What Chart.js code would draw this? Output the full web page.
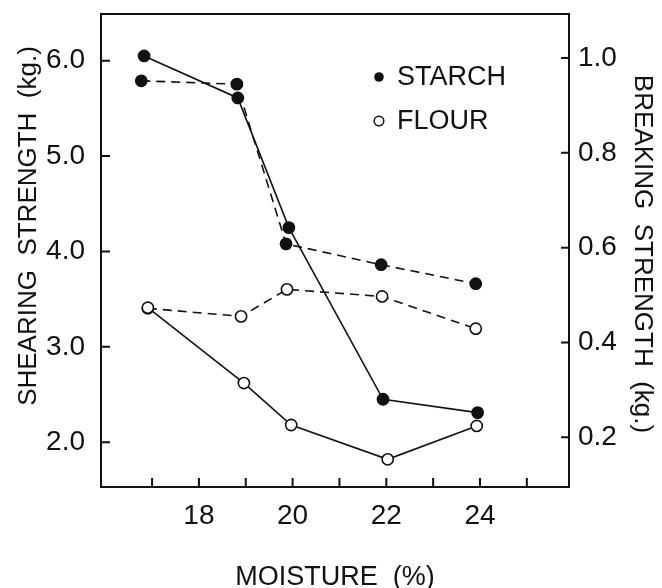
<!DOCTYPE html>
<html>
<head>
<meta charset="utf-8">
<script src="https://cdn.jsdelivr.net/npm/chart.js@4.4.0/dist/chart.umd.min.js"></script>
<style>
body { margin: 0; background: #fff; }
#wrap { width: 662px; height: 588px; }
</style>
</head>
<body>
<div id="wrap"><canvas id="my-chart" width="662" height="588"></canvas></div>
<script>
// values (moisture %, strength kg.)
var starchShearX = [16.83, 18.83, 19.92, 21.93, 23.95];
var starchShear = [6.05, 5.61, 4.25, 2.45, 2.31];
var flourShearX = [16.91, 18.96, 19.97, 22.03, 23.93];
var flourShear = [3.41, 2.62, 2.18, 1.82, 2.17];
var starchBreakX = [16.77, 18.81, 19.86, 21.89, 23.91];
var starchBreak = [0.952, 0.945, 0.608, 0.564, 0.524];
var flourBreakX = [16.91, 18.90, 19.88, 21.91, 23.91];
var flourBreak = [0.472, 0.455, 0.512, 0.497, 0.429];

var xLabels = [18, 20, 22, 24];
var xTickMarks = [17, 18, 19, 20, 21, 22, 23, 24, 25];
var leftTicks = [2, 3, 4, 5, 6];
var rightTicks = [0.2, 0.4, 0.6, 0.8, 1.0];
var legendNames = ['STARCH', 'FLOUR'];
var xTitle = 'MOISTURE  (%)';
var leftTitle = 'SHEARING  STRENGTH  (kg.)';
var rightTitle = 'BREAKING  STRENGTH  (kg.)';

var ink = '#111';
var fam = '"Liberation Sans", Arial, sans-serif';

function toPoints(xs, ys) {
  var pts = [];
  for (var i = 0; i < xs.length; i++) {
    pts.push({ x: xs[i], y: ys[i] });
  }
  return pts;
}

function makeSet(label, xs, ys, axis, filled, dashed) {
  return {
    label: label,
    data: toPoints(xs, ys),
    yAxisID: axis,
    borderColor: ink,
    borderWidth: 1.6,
    borderDash: dashed ? [9, 6] : [],
    pointRadius: 5.6,
    pointBorderWidth: 1.6,
    pointBorderColor: ink,
    pointBackgroundColor: filled ? ink : '#fff',
    tension: 0,
    fill: false
  };
}

// fixed box sizes so the plot sits where the picture has it
function fixSize(w, h) {
  return function(s) {
    if (w) s.width = w;
    if (h) s.height = h;
    s.paddingTop = 0;
    s.paddingBottom = 0;
    s.paddingLeft = 0;
    s.paddingRight = 0;
  };
}

// box round the plot, ticks pointing inwards, side titles and the little key
var frameAndTicks = {
  id: 'frameAndTicks',
  afterDatasetsDraw: function(chart) {
    var ctx = chart.ctx;
    var area = chart.chartArea;
    var sx = chart.scales.x;
    var sl = chart.scales.yLeft;
    var sr = chart.scales.yRight;
    ctx.save();
    ctx.strokeStyle = ink;
    ctx.lineWidth = 2;
    ctx.setLineDash([]);
    ctx.strokeRect(area.left, area.top, area.right - area.left, area.bottom - area.top);
    ctx.beginPath();
    xTickMarks.forEach(function(v) {
      var px = sx.getPixelForValue(v);
      ctx.moveTo(px, area.bottom);
      ctx.lineTo(px, area.bottom - 9);
    });
    leftTicks.forEach(function(v) {
      var py = sl.getPixelForValue(v);
      ctx.moveTo(area.left, py);
      ctx.lineTo(area.left + 9, py);
    });
    rightTicks.forEach(function(v) {
      var py = sr.getPixelForValue(v);
      ctx.moveTo(area.right, py);
      ctx.lineTo(area.right - 8, py);
    });
    ctx.stroke();

    var lx = area.left + 278;
    var ly = area.top + 63;
    ctx.font = '27px ' + fam;
    ctx.textBaseline = 'middle';
    ctx.textAlign = 'left';
    legendNames.forEach(function(name, i) {
      var y = ly + i * 44;
      ctx.beginPath();
      ctx.arc(lx, y, 4.8, 0, Math.PI * 2);
      if (i === 0) {
        ctx.fillStyle = ink;
        ctx.fill();
      } else {
        ctx.fillStyle = '#fff';
        ctx.fill();
        ctx.lineWidth = 1.5;
        ctx.stroke();
      }
      ctx.fillStyle = ink;
      ctx.fillText(name, lx + 18, y + 1);
    });

    // side titles, a little off centre as in the picture
    ctx.font = '26px ' + fam;
    ctx.textAlign = 'center';
    ctx.fillStyle = ink;
    ctx.save();
    ctx.translate(29, area.top + 212);
    ctx.rotate(-Math.PI / 2);
    ctx.fillText(leftTitle, 0, 0);
    ctx.restore();
    ctx.save();
    ctx.translate(642, area.top + 240);
    ctx.rotate(Math.PI / 2);
    ctx.fillText(rightTitle, 0, 0);
    ctx.restore();
    ctx.restore();
  }
};

var ctx = document.getElementById('my-chart');
var myChart = new Chart(ctx, {
  type: 'line',
  data: {
    datasets: [
      makeSet('Starch shearing', starchShearX, starchShear, 'yLeft', true, false),
      makeSet('Flour shearing', flourShearX, flourShear, 'yLeft', false, false),
      makeSet('Starch breaking', starchBreakX, starchBreak, 'yRight', true, true),
      makeSet('Flour breaking', flourBreakX, flourBreak, 'yRight', false, true)
    ]
  },
  options: {
    responsive: false,
    animation: false,
    layout: { padding: { top: 14, left: 0, right: 0, bottom: 0 } },
    plugins: {
      legend: { display: false },
      tooltip: { enabled: false }
    },
    scales: {
      x: {
        type: 'linear',
        position: 'bottom',
        min: 15.91,
        max: 25.9,
        afterBuildTicks: function(s) {
          s.ticks = xLabels.map(function(v) { return { value: v }; });
        },
        afterFit: fixSize(0, 101),
        grid: { display: false, drawTicks: false },
        border: { display: false },
        ticks: {
          padding: 12,
          color: ink,
          autoSkip: false,
          maxRotation: 0,
          font: { family: fam, size: 28 },
          callback: function(v) { return String(v); }
        },
        title: {
          display: true,
          text: xTitle,
          color: ink,
          font: { family: fam, size: 27, lineHeight: 1 },
          padding: { top: 0, bottom: -3 }
        }
      },
      yLeft: {
        type: 'linear',
        position: 'left',
        min: 1.53,
        max: 6.49,
        afterBuildTicks: function(s) {
          s.ticks = leftTicks.map(function(v) { return { value: v }; });
        },
        afterFit: fixSize(101, 0),
        grid: { display: false, drawTicks: false },
        border: { display: false },
        ticks: {
          padding: 16,
          color: ink,
          font: { family: fam, size: 28 },
          callback: function(v) { return v.toFixed(1); }
        }
      },
      yRight: {
        type: 'linear',
        position: 'right',
        min: 0.095,
        max: 1.093,
        afterBuildTicks: function(s) {
          s.ticks = rightTicks.map(function(v) { return { value: v }; });
        },
        afterFit: fixSize(93, 0),
        grid: { display: false, drawTicks: false },
        border: { display: false },
        ticks: {
          padding: 9,
          color: ink,
          font: { family: fam, size: 28 },
          callback: function(v) { return v.toFixed(1); }
        }
      }
    }
  },
  plugins: [frameAndTicks]
});
</script>
</body>
</html>
